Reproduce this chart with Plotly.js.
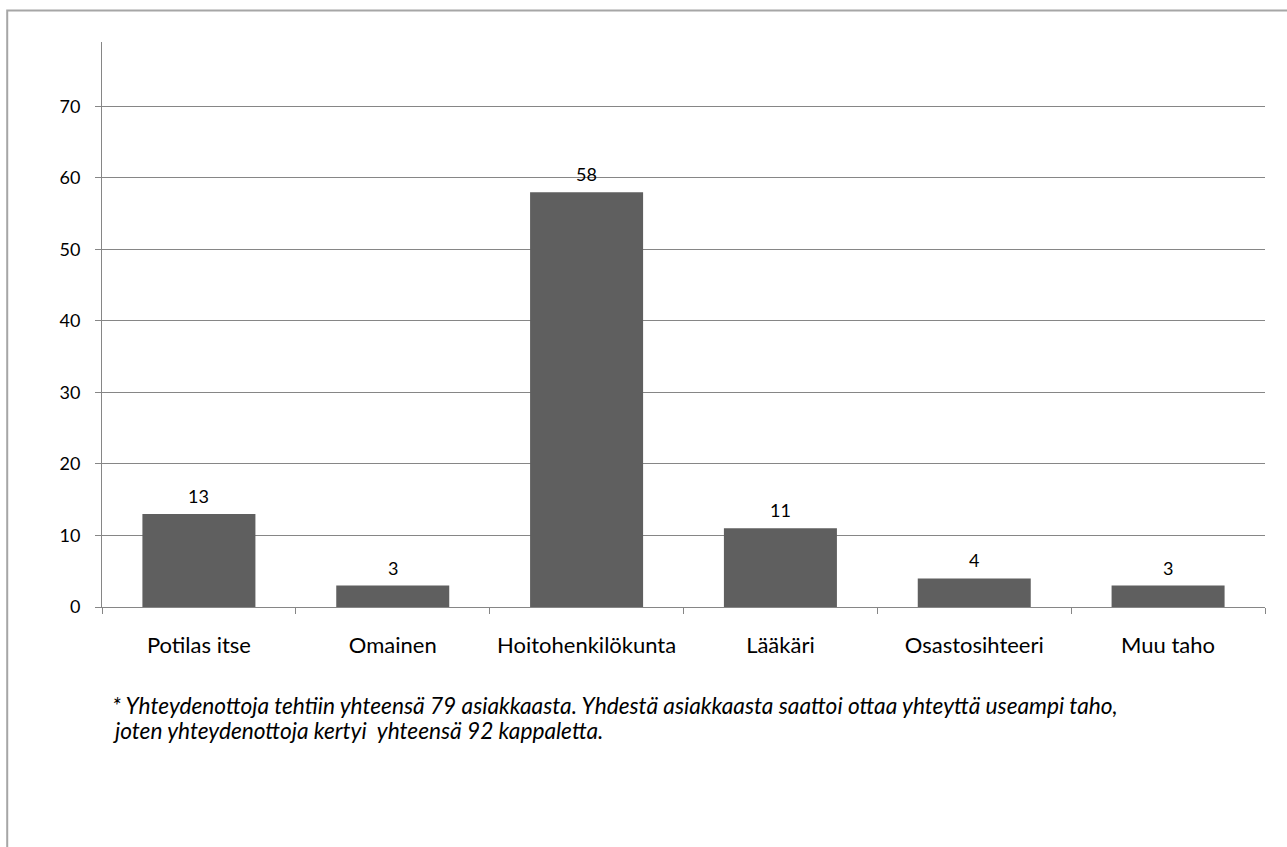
<!DOCTYPE html>
<html>
<head>
<meta charset="utf-8">
<script src="https://cdn.plot.ly/plotly-3.0.1.min.js"></script>
<style>
  html, body { margin: 0; padding: 0; background: #ffffff; }
  #chart { width: 1287px; height: 847px; }
</style>
</head>
<body>
<div id="chart"></div>
<script>
// Yhteydenottajat (kpl)
const categories = ["Potilas itse", "Omainen", "Hoitohenkilökunta", "Lääkäri", "Osastosihteeri", "Muu taho"];
const counts = [13, 3, 58, 11, 4, 3];
const yTicks = [0, 10, 20, 30, 40, 50, 60, 70];
const footnoteLines = [
  "* Yhteydenottoja tehtiin yhteensä 79 asiakkaasta. Yhdestä asiakkaasta saattoi ottaa yhteyttä useampi taho,",
  "joten yhteydenottoja kertyi  yhteensä 92 kappaletta."
];

const fontFamily = "Lato, 'Open Sans', sans-serif";
const axisGray = "#868686";

const trace = {
  type: "bar",
  x: categories,
  y: counts,
  marker: { color: "#5f5f5f", line: { width: 0 } },
  hoverinfo: "x+y"
};

// value labels above each bar
const valueLabels = categories.map((c, i) => ({
  x: c,
  y: counts[i],
  xref: "x",
  yref: "y",
  text: String(counts[i]),
  showarrow: false,
  yanchor: "bottom",
  yshift: 5,
  font: { family: fontFamily, size: 18, color: "#000000" }
}));

// footnote below the plot, one annotation per line
const footnoteY = [-0.1735, -0.2177];
const footnote = footnoteLines.map((line, i) => ({
  xref: "paper", yref: "paper",
  x: 0.0069, y: footnoteY[i],
  xanchor: "left", yanchor: "middle",
  align: "left",
  showarrow: false,
  text: "<i>" + line + "</i>",
  font: { family: fontFamily, size: 22.7, color: "#000000" }
}));

const layout = {
  width: 1287,
  height: 847,
  margin: { l: 102, r: 22, t: 42, b: 240 },
  paper_bgcolor: "#ffffff",
  plot_bgcolor: "#ffffff",
  showlegend: false,
  bargap: 0.417,
  xaxis: {
    type: "category",
    tickson: "boundaries",
    ticks: "outside",
    ticklen: 6,
    tickcolor: axisGray,
    tickwidth: 1,
    showgrid: false,
    showline: true,
    linecolor: axisGray,
    linewidth: 1,
    ticklabelstandoff: 19,
    tickfont: { family: fontFamily, size: 22, color: "#000000" },
    fixedrange: true
  },
  yaxis: {
    range: [0, 79],
    tickvals: yTicks,
    ticktext: yTicks.map(String),
    ticks: "outside",
    ticklen: 6,
    tickcolor: axisGray,
    showgrid: true,
    gridcolor: axisGray,
    gridwidth: 1,
    zeroline: false,
    showline: true,
    linecolor: axisGray,
    linewidth: 1,
    ticklabelstandoff: 11,
    tickfont: { family: fontFamily, size: 18, color: "#000000" },
    fixedrange: true
  },
  shapes: [
    {
      type: "rect",
      xref: "paper", yref: "paper",
      x0: -0.0815, x1: 1.2,
      y0: -1, y1: 1.0558,
      line: { color: "#a6a6a6", width: 2 },
      fillcolor: "rgba(0,0,0,0)",
      layer: "below"
    }
  ],
  annotations: valueLabels.concat(footnote)
};

Plotly.newPlot("chart", [trace], layout, { displayModeBar: false, staticPlot: true });
</script>
</body>
</html>
